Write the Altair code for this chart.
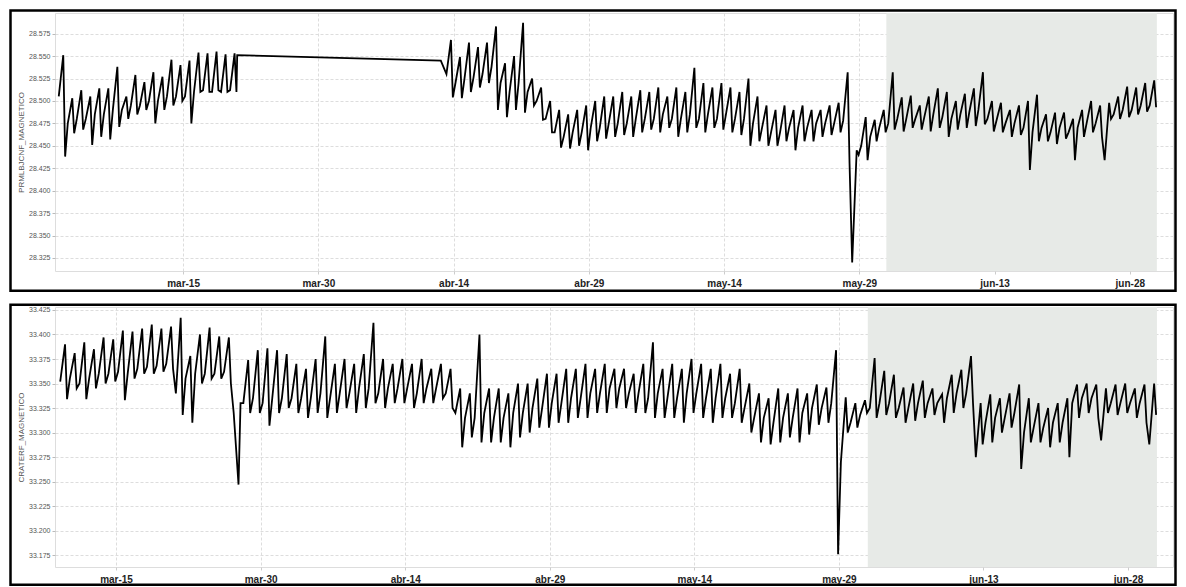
import altair as alt
import pandas as pd

# ---------------- data ----------------
TOP_TITLE = "PRMLBJCNF_MAGNETICO"
BOTTOM_TITLE = "CRATERF_MAGNETICO"

SAMPLE_HOURS = [5, 17, 22]  # three readings per day: morning, afternoon, evening

# top series, first segment (Mar 1 .. Mar 20)
top_a_start = "2023-03-01"
top_a_morning = [28.505, 28.475, 28.480, 28.480, 28.485, 28.485, 28.490, 28.490, 28.495, 28.495,
                 28.500, 28.500, 28.505, 28.505, 28.505, 28.510, 28.512, 28.510, 28.510, 28.512]
top_a_afternoon = [28.551, 28.503, 28.512, 28.505, 28.514, 28.514, 28.538, 28.505, 28.529, 28.521,
                   28.532, 28.527, 28.546, 28.540, 28.545, 28.554, 28.553, 28.555, 28.552, 28.553]
top_a_evening = [28.438, 28.464, 28.468, 28.451, 28.460, 28.457, 28.471, 28.480, 28.485, 28.490,
                 28.475, 28.490, 28.495, 28.500, 28.475, 28.510, 28.510, 28.512, 28.510, 28.510]

# the two readings either side of the data gap
top_gap_times = ["2023-03-21T00:00", "2023-04-12T14:00"]
top_gap_values = [28.551, 28.545]

# top series, second segment (Apr 13 .. Jun 30)
top_b_start = "2023-04-13"
top_b_morning = [
    28.530, 28.520, 28.525, 28.526, 28.530, 28.538, 28.520, 28.510, 28.520, 28.510,
    28.500, 28.480, 28.465, 28.460, 28.465, 28.465, 28.470, 28.470,
    28.475, 28.475, 28.475, 28.480, 28.480, 28.480, 28.485, 28.480, 28.480, 28.485,
    28.480, 28.485, 28.480, 28.485, 28.480, 28.480, 28.475, 28.470, 28.465, 28.465,
    28.470, 28.470, 28.470, 28.475, 28.475, 28.475, 28.478, 28.320, 28.450, 28.460, 28.470,
    28.475, 28.480, 28.480, 28.480, 28.482, 28.485, 28.482, 28.480, 28.485, 28.488,
    28.490, 28.480, 28.478, 28.475, 28.475, 28.470, 28.465, 28.470, 28.465, 28.470,
    28.465, 28.470, 28.475, 28.475, 28.434, 28.485, 28.490, 28.490, 28.495, 28.495]
top_b_afternoon = [
    28.568, 28.549, 28.565, 28.560, 28.565, 28.583, 28.542, 28.550, 28.587, 28.525,
    28.515, 28.500, 28.490, 28.485, 28.490, 28.495, 28.500, 28.505,
    28.505, 28.510, 28.505, 28.512, 28.510, 28.515, 28.505, 28.515, 28.510, 28.537,
    28.520, 28.515, 28.520, 28.515, 28.510, 28.525, 28.505, 28.495, 28.490, 28.495,
    28.490, 28.495, 28.490, 28.490, 28.495, 28.498, 28.532, 28.445, 28.482, 28.479, 28.490,
    28.532, 28.504, 28.506, 28.495, 28.505, 28.514, 28.510, 28.500, 28.508, 28.514,
    28.532, 28.500, 28.498, 28.490, 28.495, 28.500, 28.507, 28.485, 28.487, 28.487,
    28.480, 28.490, 28.500, 28.495, 28.498, 28.505, 28.516, 28.515, 28.520, 28.523]
top_b_evening = [
    28.504, 28.503, 28.510, 28.515, 28.520, 28.490, 28.482, 28.490, 28.487, 28.495,
    28.479, 28.465, 28.448, 28.447, 28.450, 28.445, 28.455, 28.458,
    28.460, 28.462, 28.460, 28.465, 28.468, 28.465, 28.470, 28.460, 28.465, 28.470,
    28.465, 28.470, 28.468, 28.465, 28.462, 28.450, 28.455, 28.450, 28.450, 28.455,
    28.445, 28.455, 28.455, 28.460, 28.462, 28.465, 28.430, 28.440, 28.434, 28.455, 28.465,
    28.468, 28.466, 28.470, 28.468, 28.466, 28.470, 28.460, 28.468, 28.470, 28.472,
    28.474, 28.466, 28.465, 28.460, 28.462, 28.423, 28.455, 28.455, 28.452, 28.458,
    28.434, 28.460, 28.465, 28.460, 28.480, 28.480, 28.482, 28.485, 28.488, 28.493]

# bottom series (Mar 9 .. Jun 30)
bottom_start = "2023-03-09"
bottom_morning = [
    33.352, 33.355, 33.350, 33.355, 33.360, 33.360, 33.362, 33.360, 33.365, 33.367,
    33.368, 33.370, 33.340, 33.355, 33.360, 33.360, 33.360, 33.362, 33.320, 33.330,
    33.335, 33.330, 33.335,
    33.335, 33.335, 33.335, 33.335, 33.340, 33.335, 33.340, 33.340, 33.345, 33.345,
    33.340, 33.345, 33.345, 33.345, 33.340, 33.345, 33.345, 33.340, 33.320, 33.315,
    33.315, 33.320, 33.315, 33.315, 33.320, 33.320, 33.325, 33.325, 33.330, 33.330,
    33.335, 33.335, 33.340, 33.340, 33.345, 33.345, 33.340, 33.340, 33.335, 33.340,
    33.335, 33.335, 33.340, 33.340, 33.335, 33.335, 33.335, 33.330, 33.325, 33.315,
    33.315, 33.310, 33.315, 33.315, 33.320, 33.325, 33.325, 33.330, 33.270, 33.310, 33.318,
    33.325, 33.330, 33.330, 33.325, 33.325, 33.330, 33.330, 33.330, 33.335, 33.340,
    33.340, 33.275, 33.310, 33.315, 33.315, 33.320, 33.300, 33.305, 33.305, 33.310,
    33.310, 33.330, 33.335, 33.335, 33.292, 33.330, 33.330, 33.330, 33.330, 33.288]
bottom_afternoon = [
    33.390, 33.381, 33.392, 33.385, 33.397, 33.395, 33.404, 33.403, 33.406, 33.410,
    33.406, 33.408, 33.417, 33.378, 33.400, 33.407, 33.398, 33.397, 33.247, 33.374,
    33.384, 33.386, 33.384,
    33.380, 33.370, 33.365, 33.375, 33.398, 33.370, 33.375, 33.370, 33.380, 33.412,
    33.375, 33.370, 33.375, 33.370, 33.375, 33.365, 33.370, 33.365, 33.345, 33.340,
    33.400, 33.345, 33.345, 33.340, 33.350, 33.350, 33.355, 33.360, 33.360, 33.365,
    33.365, 33.370, 33.365, 33.370, 33.365, 33.365, 33.360, 33.370, 33.392, 33.365,
    33.370, 33.365, 33.375, 33.370, 33.365, 33.370, 33.360, 33.365, 33.350, 33.340,
    33.335, 33.345, 33.340, 33.345, 33.340, 33.349, 33.346, 33.384, 33.336, 33.330, 33.333,
    33.376, 33.363, 33.359, 33.346, 33.350, 33.353, 33.345, 33.339, 33.359, 33.364,
    33.378, 33.330, 33.339, 33.335, 33.340, 33.349, 33.335, 33.330, 33.325, 33.330,
    33.335, 33.349, 33.350, 33.349, 33.345, 33.349, 33.350, 33.345, 33.349, 33.350]
bottom_evening = [
    33.334, 33.345, 33.334, 33.345, 33.350, 33.352, 33.333, 33.355, 33.360, 33.360,
    33.362, 33.365, 33.318, 33.310, 33.350, 33.355, 33.355, 33.350, 33.330, 33.320,
    33.320, 33.307, 33.320,
    33.325, 33.320, 33.315, 33.320, 33.315, 33.320, 33.325, 33.320, 33.325, 33.330,
    33.325, 33.330, 33.330, 33.325, 33.330, 33.330, 33.335, 33.325, 33.285, 33.295,
    33.290, 33.290, 33.290, 33.285, 33.295, 33.300, 33.305, 33.305, 33.310, 33.310,
    33.315, 33.315, 33.320, 33.320, 33.325, 33.325, 33.320, 33.320, 33.315, 33.315,
    33.315, 33.310, 33.320, 33.315, 33.310, 33.315, 33.315, 33.310, 33.300, 33.290,
    33.288, 33.290, 33.295, 33.290, 33.298, 33.308, 33.310, 33.176, 33.300, 33.305, 33.320,
    33.315, 33.318, 33.315, 33.310, 33.312, 33.315, 33.318, 33.310, 33.320, 33.325,
    33.330, 33.288, 33.290, 33.300, 33.305, 33.263, 33.290, 33.290, 33.285, 33.290,
    33.275, 33.315, 33.320, 33.315, 33.320, 33.318, 33.320, 33.315, 33.310, 33.318]

# shaded period and axes
shade_start = ["2023-06-01T00:00"]
shade_end = ["2023-07-01T00:00"]
tick_dates = ["2023-03-15", "2023-03-30", "2023-04-14", "2023-04-29",
              "2023-05-14", "2023-05-29", "2023-06-13", "2023-06-28"]
top_x_domain = ["2023-02-28T19:00", "2023-07-02T19:00"]
bottom_x_domain = ["2023-03-08T16:00", "2023-07-02T16:00"]
top_y_domain = [28.3105, 28.598]
bottom_y_domain = [33.163, 33.428]
top_y_ticks = [28.325, 28.350, 28.375, 28.400, 28.425, 28.450, 28.475, 28.500, 28.525, 28.550, 28.575]
bottom_y_ticks = [33.175, 33.200, 33.225, 33.250, 33.275, 33.300, 33.325, 33.350, 33.375, 33.400, 33.425]


# ---------------- helpers ----------------
def ms(s):
    return int(pd.Timestamp(s, tz="UTC").timestamp() * 1000)


def daily_rows(start, a, b, c):
    assert len(a) == len(b) == len(c), (len(a), len(b), len(c))
    rows = []
    for i, day in enumerate(pd.date_range(start, periods=len(a), freq="D", tz="UTC")):
        for h, v in zip(SAMPLE_HOURS, (a[i], b[i], c[i])):
            rows.append({"t": int((day + pd.Timedelta(hours=h)).timestamp() * 1000), "v": v})
    return rows


top_rows = daily_rows(top_a_start, top_a_morning, top_a_afternoon, top_a_evening)
top_rows += [{"t": ms(t), "v": v} for t, v in zip(top_gap_times, top_gap_values)]
top_rows += daily_rows(top_b_start, top_b_morning, top_b_afternoon, top_b_evening)
top_df = pd.DataFrame(top_rows).sort_values("t")
bottom_df = pd.DataFrame(daily_rows(bottom_start, bottom_morning, bottom_afternoon, bottom_evening))
shade_df = pd.DataFrame({"s": [ms(x) for x in shade_start], "e": [ms(x) for x in shade_end]})

tick_ms = [ms(d) for d in tick_dates]
MONTHS = "['ene','feb','mar','abr','may','jun','jul','ago','sep','oct','nov','dic']"
label_expr = MONTHS + "[utcmonth(datum.value)] + '-' + utcFormat(datum.value, '%d')"

WIDTH = 1118
FONT = "Liberation Sans"


def panel(df, x_domain, y_domain, y_ticks, y_title, height, frame):
    x_axis = alt.Axis(values=tick_ms, labelExpr=label_expr, title=None, labelFont=FONT,
                      labelFontSize=10, labelFontWeight="bold", labelColor="#222222",
                      labelPadding=4, tickSize=3, tickColor="#cccccc", domain=False,
                      grid=True, gridColor="#dddddd", gridDash=[3, 2], labelFlush=False)
    x_scale = alt.Scale(type="utc", domain=[ms(d) for d in x_domain], nice=False)
    y_axis = alt.Axis(values=y_ticks, format=".3f", title=y_title, labelFont=FONT,
                      labelFontSize=7, labelColor="#555555", labelPadding=2, tickSize=3,
                      tickColor="#bbbbbb", domain=False, grid=True, gridColor="#dddddd",
                      gridDash=[3, 2], titleFont=FONT, titleFontSize=8,
                      titleFontWeight="normal", titleColor="#555555", titlePadding=3)
    y_scale = alt.Scale(domain=y_domain, nice=False, zero=False)

    shade = alt.Chart(shade_df).mark_rect(color="#e7eae7").encode(
        x=alt.X("s:T", scale=x_scale, axis=x_axis),
        x2="e:T",
    )
    line = alt.Chart(df).mark_line(color="black", strokeWidth=1.8).encode(
        x=alt.X("t:T", scale=x_scale, axis=x_axis),
        y=alt.Y("v:Q", scale=y_scale, axis=y_axis),
    )
    fx0, fy0, fx1, fy1 = frame
    box = alt.Chart(alt.Data(values=[{"k": 1}])).mark_rect(
        filled=False, stroke="black", strokeWidth=2.5
    ).encode(x=alt.value(fx0), x2=alt.value(fx1), y=alt.value(fy0), y2=alt.value(fy1))
    return alt.layer(shade, line, box).properties(width=WIDTH, height=height)


top = panel(top_df, top_x_domain, top_y_domain, top_y_ticks, TOP_TITLE, 258,
            (-44.5, -2.5, 1120.5, 277.75))
bottom = panel(bottom_df, bottom_x_domain, bottom_y_domain, bottom_y_ticks, BOTTOM_TITLE, 260,
               (-44.5, -2.25, 1120.5, 277.75))

chart = alt.vconcat(top, bottom, spacing=10).properties(padding=0).configure_view(
    stroke="#dddddd", strokeWidth=1
).configure(background="white")

chart.save("out.html", embed_options={"renderer": "svg", "actions": False})
